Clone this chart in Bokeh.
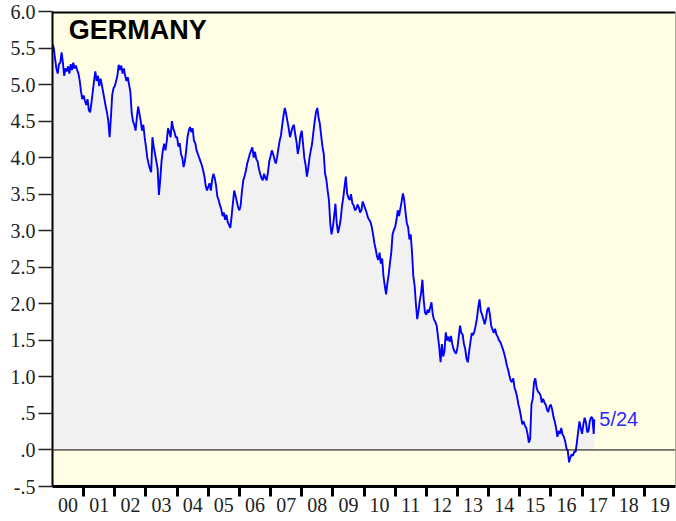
from bokeh.plotting import figure
from bokeh.models import FixedTicker, Span, Range1d, CustomJSTickFormatter, LinearAxis
from bokeh.core.properties import value
from bokeh.embed import file_html
from bokeh.resources import INLINE

# German 10y government bond yield (%), read semi-monthly from the chart
y2000 = [5.55, 5.50, 5.35, 5.22, 5.15, 5.28, 5.30, 5.44, 5.30, 5.12, 5.22, 5.18, 5.25, 5.15, 5.28, 5.20, 5.30, 5.22, 5.26, 5.20, 5.15, 5.05, 4.90, 4.80]
y2001 = [4.85, 4.78, 4.72, 4.80, 4.65, 4.62, 4.75, 4.90, 5.05, 5.18, 5.05, 5.12, 4.98, 5.08, 5.00, 4.90, 4.80, 4.70, 4.62, 4.50, 4.28, 4.55, 4.86, 4.95]
y2002 = [4.98, 5.05, 5.12, 5.27, 5.20, 5.26, 5.15, 5.22, 5.12, 5.05, 5.10, 5.00, 4.90, 4.62, 4.50, 4.45, 4.37, 4.55, 4.70, 4.60, 4.50, 4.37, 4.45, 4.28]
y2003 = [4.15, 4.00, 3.92, 3.85, 3.80, 4.28, 4.15, 4.05, 3.95, 3.85, 3.49, 3.70, 3.95, 4.10, 4.19, 4.10, 4.22, 4.40, 4.35, 4.28, 4.50, 4.40, 4.35, 4.28]
y2004 = [4.28, 4.15, 4.20, 4.05, 4.00, 3.87, 3.95, 4.10, 4.28, 4.37, 4.42, 4.35, 4.40, 4.23, 4.20, 4.10, 4.05, 4.00, 3.95, 3.90, 3.83, 3.75, 3.62, 3.55]
y2005 = [3.60, 3.65, 3.55, 3.70, 3.78, 3.72, 3.62, 3.47, 3.42, 3.35, 3.30, 3.20, 3.25, 3.15, 3.22, 3.12, 3.08, 3.04, 3.20, 3.38, 3.55, 3.48, 3.40, 3.32]
y2006 = [3.28, 3.35, 3.55, 3.69, 3.75, 3.82, 3.92, 3.98, 4.05, 4.10, 4.14, 4.00, 4.08, 3.98, 3.95, 3.85, 3.78, 3.72, 3.69, 3.78, 3.72, 3.69, 3.80, 3.95]
y2007 = [4.02, 4.10, 4.05, 3.98, 3.92, 4.00, 4.12, 4.23, 4.30, 4.45, 4.58, 4.68, 4.60, 4.50, 4.40, 4.28, 4.35, 4.42, 4.45, 4.32, 4.22, 4.05, 4.15, 4.30]
y2008 = [4.37, 4.20, 4.00, 3.90, 3.74, 3.85, 4.00, 4.10, 4.19, 4.35, 4.50, 4.62, 4.68, 4.55, 4.46, 4.30, 4.15, 4.05, 3.78, 3.70, 3.55, 3.42, 3.10, 2.95]
y2009 = [3.05, 3.20, 3.37, 3.10, 2.97, 3.05, 3.15, 3.33, 3.45, 3.60, 3.74, 3.51, 3.45, 3.42, 3.50, 3.38, 3.35, 3.28, 3.30, 3.36, 3.32, 3.25, 3.28, 3.40]
y2010 = [3.35, 3.30, 3.25, 3.18, 3.15, 3.12, 3.05, 2.95, 2.83, 2.75, 2.65, 2.60, 2.70, 2.55, 2.62, 2.38, 2.25, 2.13, 2.28, 2.40, 2.56, 2.70, 2.95, 3.01]
y2011 = [3.05, 3.15, 3.28, 3.20, 3.30, 3.40, 3.51, 3.42, 3.25, 3.10, 3.05, 2.88, 2.95, 2.70, 2.38, 2.25, 2.00, 1.79, 1.90, 2.05, 2.15, 2.33, 2.05, 1.88]
y2012 = [1.85, 1.92, 1.88, 1.95, 2.02, 1.85, 1.78, 1.75, 1.70, 1.55, 1.40, 1.20, 1.45, 1.28, 1.35, 1.61, 1.50, 1.55, 1.48, 1.56, 1.45, 1.38, 1.34, 1.32]
y2013 = [1.40, 1.55, 1.70, 1.60, 1.58, 1.45, 1.38, 1.25, 1.20, 1.35, 1.48, 1.60, 1.57, 1.62, 1.70, 1.80, 1.95, 2.06, 1.90, 1.85, 1.79, 1.72, 1.80, 1.92]
y2014 = [1.95, 1.85, 1.70, 1.65, 1.60, 1.66, 1.58, 1.55, 1.50, 1.48, 1.43, 1.38, 1.32, 1.25, 1.16, 1.10, 1.02, 0.95, 0.93, 0.98, 0.85, 0.80, 0.72, 0.62]
y2015 = [0.55, 0.45, 0.35, 0.39, 0.33, 0.30, 0.22, 0.10, 0.15, 0.62, 0.70, 0.93, 0.98, 0.85, 0.80, 0.78, 0.75, 0.65, 0.70, 0.65, 0.62, 0.55, 0.52, 0.60]
y2016 = [0.62, 0.55, 0.45, 0.39, 0.30, 0.18, 0.26, 0.22, 0.30, 0.21, 0.18, 0.12, 0.02, -0.01, -0.17, -0.10, -0.06, -0.08, -0.02, -0.03, 0.10, 0.25, 0.39, 0.30]
y2017 = [0.22, 0.35, 0.44, 0.38, 0.24, 0.26, 0.40, 0.45, 0.44, 0.22]
last_date = 2017.392   # 5/24/2017
last_value = 0.42
last_label = "5/24"
title = "GERMANY"

year_lists = [y2000, y2001, y2002, y2003, y2004, y2005, y2006, y2007, y2008,
              y2009, y2010, y2011, y2012, y2013, y2014, y2015, y2016, y2017]
first_year = 2000

dates, vals = [], []
for k, lst in enumerate(year_lists):
    for i, v in enumerate(lst):
        dates.append(first_year + k + i / 24.0)
        vals.append(v)
dates.append(last_date)
vals.append(last_value)
fill_top = [max(v, 0.0) for v in vals]

y_ticks = [-0.5, 0.0, 0.5, 1.0, 1.5, 2.0, 2.5, 3.0, 3.5, 4.0, 4.5, 5.0, 5.5, 6.0]
year_ticks = list(range(2001, 2020))
year_label_pos = [y + 0.5 for y in range(2000, 2020)]

p = figure(width=676, height=521, output_backend="svg", toolbar_location=None,
           x_range=Range1d(2000, 2020), y_range=Range1d(-0.5, 6.0),
           min_border_left=52, min_border_right=1, min_border_top=11, min_border_bottom=35,
           background_fill_color="#fffee4", border_fill_color="white",
           outline_line_color=None)
p.grid.visible = False

p.varea(x=dates, y1=0, y2=fill_top, fill_color="#f1f1f1")
p.line(dates, vals, line_color="#0000ff", line_width=1.9)

p.add_layout(Span(location=0, dimension="width", line_color="black", line_width=1))
p.add_layout(Span(location=6.0, dimension="width", line_color="black", line_width=4))
p.add_layout(Span(location=2020, dimension="height", line_color="#555555", line_width=1))

# y axis
ya = p.yaxis[0]
ya.ticker = FixedTicker(ticks=y_ticks)
ya.formatter = CustomJSTickFormatter(code="""
    let s = tick.toFixed(1);
    if (s.startsWith('0.')) s = s.slice(1);
    if (s.startsWith('-0.')) s = '-' + s.slice(2);
    return s;""")
ya.axis_line_width = 2
ya.axis_line_color = "black"
ya.major_tick_out = 14
ya.major_tick_in = 0
ya.major_tick_line_width = 1.5
ya.major_tick_line_color = "#222222"
ya.minor_tick_line_color = None
ya.major_label_standoff = 3
ya.major_label_text_font = "Liberation Serif"
ya.major_label_text_font_size = "20px"
ya.major_label_text_color = "#222222"

# x axis: year boundary ticks (no labels)
xa = p.xaxis[0]
xa.ticker = FixedTicker(ticks=year_ticks)
xa.formatter = CustomJSTickFormatter(code="return '';")
xa.axis_line_width = 3
xa.axis_line_color = "black"
xa.major_tick_out = 10
xa.major_tick_in = 0
xa.major_tick_line_width = 3
xa.major_tick_line_color = "black"
xa.minor_tick_line_color = None
xa.major_label_standoff = 0
xa.major_label_text_font_size = "1px"

# x axis: year labels centred within each year
xl = LinearAxis(ticker=FixedTicker(ticks=year_label_pos),
                formatter=CustomJSTickFormatter(code="""
    return String(Math.floor(tick) % 100).padStart(2, '0');"""))
xl.axis_line_color = None
xl.major_tick_line_color = None
xl.minor_tick_line_color = None
xl.major_tick_out = 0
xl.major_tick_in = 0
xl.major_label_standoff = 1
xl.major_label_text_font = "Liberation Serif"
xl.major_label_text_font_size = "20px"
xl.major_label_text_color = "#222222"
p.add_layout(xl, "below")

p.text(x=[first_year + 0.52], y=[5.95], text=[title],
       text_font=value("Liberation Sans"), text_font_style="bold",
       text_font_size="27px", text_baseline="top", text_color="black")
p.text(x=[last_date], y=[last_value], text=[last_label], x_offset=5,
       text_font=value("Liberation Sans"), text_font_size="20px",
       text_baseline="middle", text_color="#2a2aff")

open("out.html", "w").write(file_html(p, INLINE))
